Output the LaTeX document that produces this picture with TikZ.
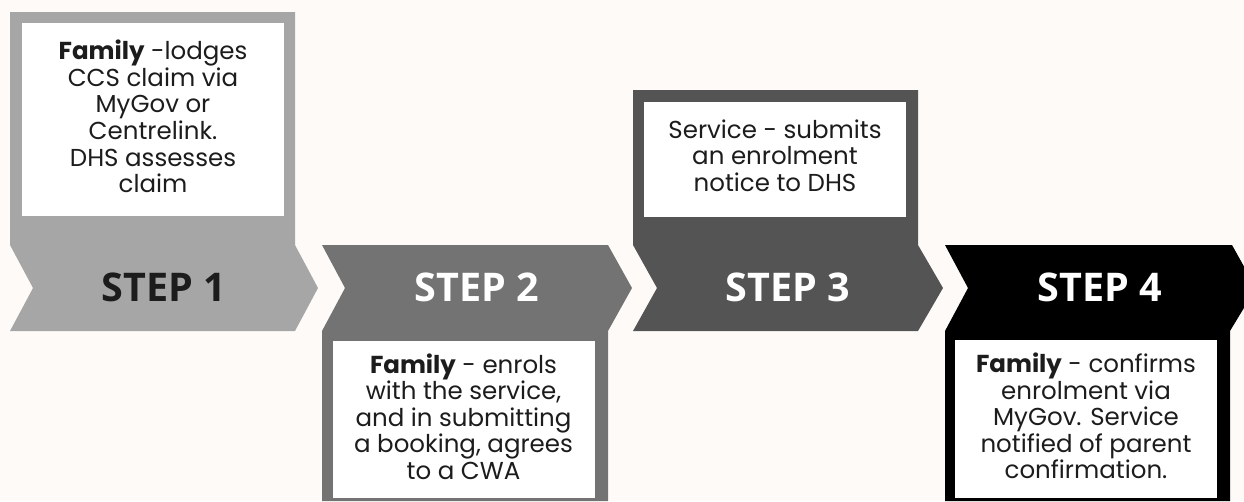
\documentclass[tikz,border=0pt]{standalone}
\usepackage{fontspec}
\setmainfont{Poppins}
\newfontfamily\stepfont{Open Sans}
\definecolor{bgc}{HTML}{FEFAF8}
\definecolor{gA}{HTML}{A6A6A6}
\definecolor{gB}{HTML}{737373}
\definecolor{gC}{HTML}{545454}
\definecolor{gD}{HTML}{000000}
\definecolor{txt}{HTML}{1C1C1C}
\begin{document}
\begin{tikzpicture}[x=1pt,y=-1pt,
  whitebox/.style={fill=white,draw=none,inner sep=0pt,minimum width=262pt},
  bodytext/.style={font=\fontsize{24.5}{26.6}\selectfont,align=center,text=txt,inner sep=0pt},
  steplabel/.style={font=\stepfont\bfseries\fontsize{39.5}{42}\selectfont,inner sep=0pt}]
\fill[bgc] (0,0) rectangle (1244,501);
\useasboundingbox (0,0) rectangle (1244,501);
% step shapes
\fill[gA] (10,12) -- (295,12) -- (295,245) -- (318,288) -- (295,331) -- (10,331) -- (33,288) -- (10,245) -- cycle;
\fill[gB] (322,245) -- (608,245) -- (632,288) -- (608,331) -- (608,501) -- (322,501) -- (322,331) -- (345,288) -- cycle;
\fill[gC] (633,90) -- (918,90) -- (918,245) -- (943,288) -- (918,331) -- (633,331) -- (657,288) -- (633,245) -- cycle;
\fill[gD] (945,245) -- (1232,245) -- (1256,288) -- (1230,331) -- (1230,501) -- (945,501) -- (945,331) -- (968,288) -- cycle;
% white boxes
\node[whitebox,minimum height=193pt] (b1) at (153,119.5) {};
\node[whitebox,minimum height=157pt] (b2) at (463.5,419.5) {};
\node[whitebox,minimum height=115pt] (b3) at (775,159.5) {};
\node[whitebox,minimum height=158pt] (b4) at (1086,419) {};
% texts
\node[bodytext] (t1) at ([yshift=3pt]b1.center) {\textbf{Family} -lodges\\CCS claim via\\MyGov or\\Centrelink.\\DHS assesses\\claim};
\node[bodytext] (t2) at ([yshift=3pt]b2.center) {\textbf{Family} - enrols\\with the service,\\and in submitting\\a booking, agrees\\to a CWA};
\node[bodytext] (t3) at ([yshift=4pt]b3.center) {Service - submits\\an enrolment\\notice to DHS};
\node[bodytext] (t4) at ([yshift=3pt]b4.center) {\textbf{Family} - confirms\\enrolment via\\MyGov. Service\\notified of parent\\confirmation.};
% step labels
\node[steplabel,text=txt] (s1) at (164,287) {STEP 1};
\node[steplabel,text=white] (s2) at (477,287) {STEP 2};
\node[steplabel,text=white] (s3) at (788,287) {STEP 3};
\node[steplabel,text=white] (s4) at (1100,287) {STEP 4};
\end{tikzpicture}
\end{document}
